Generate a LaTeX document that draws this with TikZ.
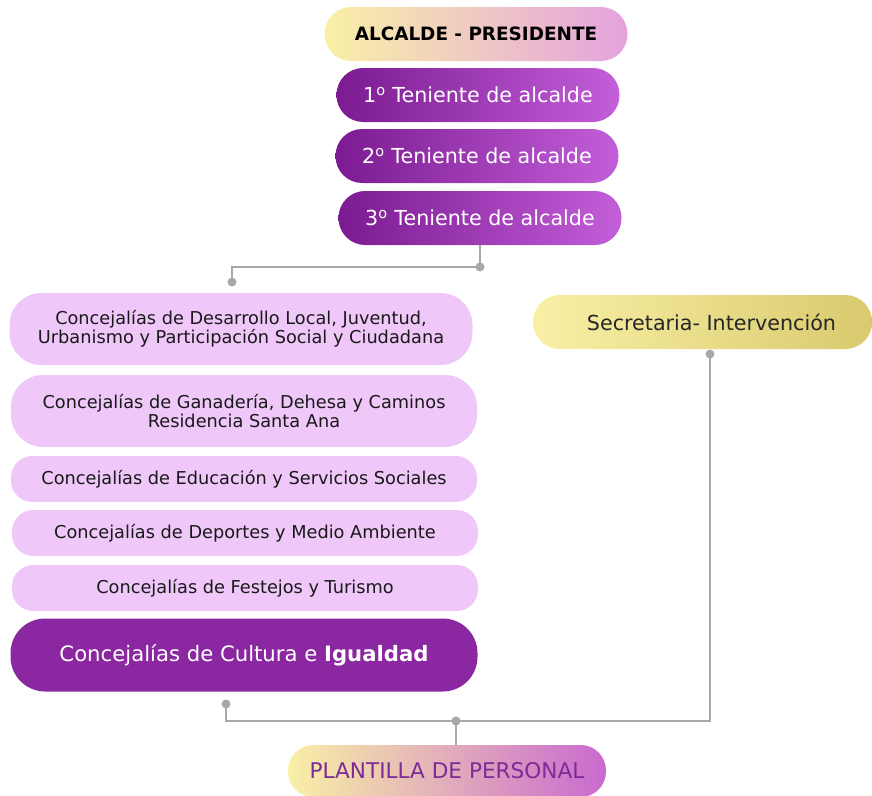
\documentclass[tikz,border=0pt]{standalone}
\usepackage{fontspec}
\setmainfont{DejaVu Sans}
\usepackage{tikz}
\usetikzlibrary{calc}

\definecolor{amarillo}{HTML}{F9F0A6}
\definecolor{rosaalc}{HTML}{E5A2DF}
\definecolor{moradoosc}{HTML}{7B1A91}
\definecolor{moradocla}{HTML}{C35FD9}
\definecolor{rosapalido}{HTML}{F0C7F9}
\definecolor{moradocult}{HTML}{8B27A1}
\definecolor{oroscuro}{HTML}{D9CA6E}
\definecolor{rosaplant}{HTML}{C969CF}
\definecolor{textoplant}{HTML}{7D2B96}
\definecolor{gris}{HTML}{A8A8A8}

\newcommand{\ordo}{\textsuperscript{o}}

\tikzset{
  pill/.style={inner sep=0pt, align=center},
  teniente/.style={pill, left color=moradoosc, right color=moradocla, text=white,
    minimum width=212.25pt, minimum height=40.5pt, rounded corners=20pt,
    font=\fontsize{15.5}{17}\selectfont},
  concejalia/.style={pill, fill=rosapalido, text=black!90,
    minimum width=349.5pt, font=\fontsize{13.3}{14.5}\selectfont},
  conn/.style={draw=gris, line width=1.4pt},
  punto/.style={fill=gris, draw=none}
}

\begin{document}
\begin{tikzpicture}[x=0.75pt,y=0.75pt,yscale=-1,xscale=1]
            \useasboundingbox (0,0) rectangle (872,796);

            % Alcalde y tenientes
            \node [pill, left color=amarillo, right color=rosaalc, minimum width=227.25pt, minimum height=40.5pt,
              rounded corners=20pt, font=\fontsize{13.8}{16}\selectfont\bfseries] (alcalde) at (476,34) {ALCALDE - PRESIDENTE};
            \node [teniente] (ten1) at (478,95) {1\ordo{} Teniente de alcalde};
            \node [teniente] (ten2) at (477,156) {2\ordo{} Teniente de alcalde};
            \node [teniente] (ten3) at (480,218) {3\ordo{} Teniente de alcalde};

            % Concejalias
            \node [concejalia, minimum width=347.25pt, minimum height=54pt, rounded corners=24pt] (con1) at (241,329)
              {Concejalías de Desarrollo Local, Juventud,\\Urbanismo y Participación Social y Ciudadana};
            \node [concejalia, minimum height=54pt, rounded corners=24pt] (con2) at (244,411)
              {Concejalías de Ganadería, Dehesa y Caminos\\Residencia Santa Ana};
            \node [concejalia, minimum height=34.5pt, rounded corners=16pt] (con3) at (244,479)
              {Concejalías de Educación y Servicios Sociales};
            \node [concejalia, minimum height=34.5pt, rounded corners=16pt] (con4) at (245,533)
              {Concejalías de Deportes y Medio Ambiente};
            \node [concejalia, minimum height=34.5pt, rounded corners=16pt] (con5) at (245,588)
              {Concejalías de Festejos y Turismo};
            \node [pill, fill=moradocult, text=white, minimum width=350.25pt, minimum height=54.75pt, rounded corners=26pt,
              font=\fontsize{15.9}{17}\selectfont] (con6) at (244,655) {Concejalías de Cultura e \textbf{Igualdad}};

            % Secretaria y plantilla
            \node [pill, left color=amarillo, right color=oroscuro, minimum width=254.25pt, minimum height=40.5pt,
              rounded corners=20pt, text=black!85, font=\fontsize{15.5}{17}\selectfont] (secre) at (702.5,322)
              {\hspace*{13.5pt}Secretaria- Intervención};
            \node [pill, left color=amarillo, right color=rosaplant, minimum width=238.5pt, minimum height=39pt,
              rounded corners=19pt, text=textoplant, font=\fontsize{16.2}{18}\selectfont] (plantilla) at (447,771) {PLANTILLA DE PERSONAL};

            % Conectores
            \coordinate (tdot) at (480,267);
            \coordinate (cdot) at (232,282);
            \coordinate (sdot) at (710,354);
            \coordinate (bdot) at (226,704);
            \coordinate (esq) at (710,721);
            \coordinate (pdot) at (456,721);
            \draw [conn] (ten3.south) -- (tdot) -| (cdot);
            \draw [conn] (sdot) -- (esq) -- (pdot);
            \draw [conn] (bdot) |- (pdot) -- (pdot |- plantilla.north);
            \foreach \p in {tdot,cdot,sdot,bdot,pdot}
              \fill [punto] (\p) circle (4.5);
        \end{tikzpicture}
\end{document}
